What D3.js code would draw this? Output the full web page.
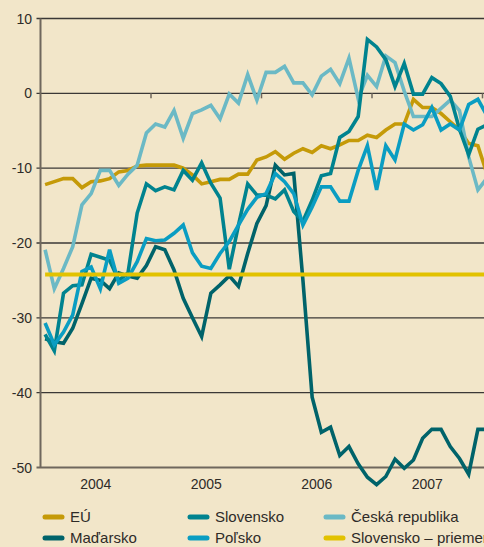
<!DOCTYPE html>
<html>
<head>
<meta charset="utf-8">
<script src="https://cdn.jsdelivr.net/npm/d3@7"></script>
<style>
  html, body { margin: 0; padding: 0; background: #f2e6c9; overflow: hidden; }
  svg { display: block; font-family: "Liberation Sans", Arial, sans-serif; }
  .tick-label { font-size: 14px; fill: #2e2b28; }
  .legend text { font-size: 15px; fill: #2e2b28; }
</style>
</head>
<body>
<div id="chart"></div>
<script>
// monthly values, Jan 2004 .. Jan 2008
const years = [2004, 2005, 2006, 2007];
const yTicks = [10, 0, -10, -20, -30, -40, -50];

const eu = [-12.2, -11.8, -11.4, -11.4, -12.6, -11.8, -11.7, -11.4, -10.5, -10.3, -9.7, -9.6,
  -9.6, -9.6, -9.6, -10.0, -10.9, -12.1, -11.8, -11.5, -11.5, -10.8, -10.8, -8.9,
  -8.5, -7.8, -8.8, -8.0, -7.4, -7.9, -7.0, -7.4, -6.9, -6.3, -6.3, -5.6,
  -5.9, -4.9, -4.1, -4.1, -0.8, -1.9, -1.9, -2.7, -3.8, -4.9, -6.7, -7.0, -10.8];

const madarsko = [-32.8, -33.2, -33.4, -31.4, -28.1, -24.7, -25.0, -26.1, -24.0, -24.4, -24.7, -23.0,
  -20.5, -20.9, -23.6, -27.4, -30.0, -32.5, -26.7, -25.6, -24.4, -25.8, -21.4, -17.4,
  -15.0, -9.6, -10.9, -10.7, -25.0, -40.6, -45.3, -44.6, -48.4, -47.2, -49.5, -51.3,
  -52.3, -51.2, -48.9, -50.1, -49.0, -46.1, -44.9, -44.9, -47.2, -48.8, -50.9, -44.9, -44.9];

const slovensko = [-32.2, -34.4, -26.7, -25.7, -25.6, -21.5, -21.9, -22.3, -25.0, -24.0, -16.0, -12.1,
  -13.0, -12.5, -12.9, -10.3, -11.6, -9.3, -12.0, -14.0, -23.5, -17.6, -12.1, -13.6,
  -13.6, -14.1, -12.9, -15.8, -17.1, -14.3, -11.0, -10.7, -5.9, -5.1, -3.1, 7.2,
  6.2, 4.5, 0.9, 4.0, -0.1, -0.1, 2.1, 1.3, -0.4, -4.8, -8.2, -4.8, -4.2];

const polsko = [-30.7, -33.6, -31.9, -29.6, -23.8, -23.2, -26.1, -20.9, -25.4, -24.7, -22.5, -19.4,
  -19.7, -19.6, -18.7, -17.6, -21.3, -23.1, -23.4, -21.4, -19.8, -17.6, -15.5, -13.9,
  -13.4, -10.7, -11.8, -13.4, -17.6, -15.2, -12.5, -12.5, -14.4, -14.4, -10.3, -7.0,
  -12.9, -7.0, -8.9, -4.1, -4.9, -4.2, -1.9, -4.9, -4.1, -4.9, -1.5, -0.8, -3.0];

const ceska = [-20.9, -26.1, -23.4, -20.5, -14.9, -13.4, -10.3, -10.3, -12.3, -10.8, -9.6, -5.3,
  -4.1, -4.5, -2.3, -6.0, -2.7, -2.2, -1.6, -3.4, -0.1, -1.3, 2.5, -0.9,
  2.8, 2.8, 3.6, 1.4, 1.4, -0.2, 2.3, 3.2, 1.3, 4.7, -0.7, 2.4,
  0.9, 5.0, 4.1, 0.3, -3.1, -3.1, -3.1, -2.0, -0.9, -2.3, -8.5, -12.9, -11.3];

const skAverage = -24.2;

const series = [
  { name: 'EÚ', values: eu, color: '#c59a08' },
  { name: 'Česká republika', values: ceska, color: '#6bb9c5' },
  { name: 'Maďarsko', values: madarsko, color: '#00636a' },
  { name: 'Slovensko', values: slovensko, color: '#00838f' },
  { name: 'Poľsko', values: polsko, color: '#0a9dc2' }
];
const avgColor = '#e2c200';

const legendCols = [
  [{ name: 'EÚ', color: '#c59a08' }, { name: 'Maďarsko', color: '#00636a' }],
  [{ name: 'Slovensko', color: '#00838f' }, { name: 'Poľsko', color: '#0a9dc2' }],
  [{ name: 'Česká republika', color: '#6bb9c5' }, { name: 'Slovensko – priemer', color: avgColor }]
];

const width = 484, height = 547;
const margin = { top: 18.5, left: 40.5, bottom: 79.5 };

const svg = d3.select('#chart').append('svg')
  .attr('width', width)
  .attr('height', height);

// fractional year -> x
const x = d3.scaleLinear()
  .domain([years[0], years[years.length - 1] + 1])
  .range([margin.left, 482.5]);
const y = d3.scaleLinear()
  .domain([-50, 10])
  .range([height - margin.bottom, margin.top]);

const monthX = i => x(years[0] + (i + 0.5) / 12);

// horizontal grid
svg.append('g')
  .selectAll('line')
  .data(yTicks)
  .enter()
  .append('line')
  .attr('x1', margin.left - 4)
  .attr('x2', width)
  .attr('y1', d => y(d))
  .attr('y2', d => y(d))
  .attr('stroke', d => d === -50 ? '#6f675d' : '#3b3836')
  .attr('stroke-width', d => d === -50 ? 2 : 1.4);

// left axis line
svg.append('line')
  .attr('x1', margin.left).attr('x2', margin.left)
  .attr('y1', y(10)).attr('y2', y(-50))
  .attr('stroke', '#6f675d')
  .attr('stroke-width', 2);

// y labels
svg.append('g')
  .selectAll('text')
  .data(yTicks)
  .enter()
  .append('text')
  .attr('class', 'tick-label')
  .attr('x', 32)
  .attr('y', d => y(d))
  .attr('dy', '0.36em')
  .attr('text-anchor', 'end')
  .text(d => d);

// year ticks on the zero line
svg.append('g')
  .selectAll('line')
  .data(years.map(d => d + 1))
  .enter()
  .append('line')
  .attr('x1', d => x(d)).attr('x2', d => x(d))
  .attr('y1', y(0)).attr('y2', y(0) + 5)
  .attr('stroke', '#6f675d')
  .attr('stroke-width', 1.5);

// year labels
svg.append('g')
  .selectAll('text')
  .data(years)
  .enter()
  .append('text')
  .attr('class', 'tick-label')
  .attr('x', d => x(d + 0.5))
  .attr('y', 489)
  .attr('text-anchor', 'middle')
  .text(d => d);

const line = d3.line()
  .x((d, i) => monthX(i))
  .y(d => y(d));

svg.append('g')
  .selectAll('path')
  .data(series)
  .enter()
  .append('path')
  .attr('d', d => line(d.values))
  .attr('fill', 'none')
  .attr('stroke', d => d.color)
  .attr('stroke-width', 3.6)
  .attr('stroke-linejoin', 'miter');

// slovak average
svg.append('line')
  .attr('x1', monthX(0))
  .attr('x2', monthX(eu.length - 1))
  .attr('y1', y(skAverage))
  .attr('y2', y(skAverage))
  .attr('stroke', avgColor)
  .attr('stroke-width', 4);

// legend
const legend = svg.append('g').attr('class', 'legend');
const colX = [43, 188, 324];
const rowY = [517, 538];
legendCols.forEach((col, c) => {
  col.forEach((item, r) => {
    legend.append('line')
      .attr('x1', colX[c] + 2).attr('x2', colX[c] + 19)
      .attr('y1', rowY[r]).attr('y2', rowY[r])
      .attr('stroke', item.color)
      .attr('stroke-width', 5)
      .attr('stroke-linecap', 'round');
    legend.append('text')
      .attr('x', colX[c] + 27)
      .attr('y', rowY[r])
      .attr('dy', '0.36em')
      .text(item.name);
  });
});
</script>
</body>
</html>
